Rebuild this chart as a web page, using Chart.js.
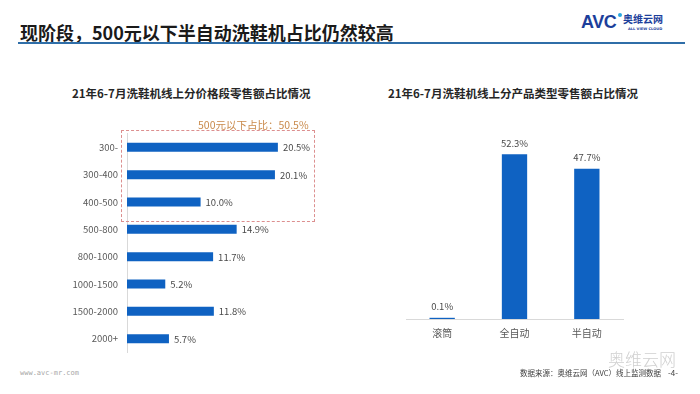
<!DOCTYPE html>
<html><head><meta charset="utf-8">
<script src="https://cdn.jsdelivr.net/npm/chart.js@4.4.1/dist/chart.umd.min.js"></script>
<style>
body{margin:0;width:700px;height:394px;background:#fff;position:relative;overflow:hidden;font-family:"Noto Sans CJK SC","Noto Sans",sans-serif;}
.abs{position:absolute;white-space:nowrap;line-height:1;}
canvas{position:absolute;}
</style></head><body>
<script>
// ---- data ----
const priceCategories = ["300-", "300-400", "400-500", "500-800", "800-1000", "1000-1500", "1500-2000", "2000+"];
const priceShares = [20.5, 20.1, 10.0, 14.9, 11.7, 5.2, 11.8, 5.7];
const typeCategories = ["滚筒", "全自动", "半自动"];
const typeShares = [0.1, 52.3, 47.7];
const under500Label = "500元以下占比：50.5%";
</script>

<div class="abs" style="left:20px;top:23px;font-size:18px;font-weight:700;color:#1a1a1a;">现阶段，500元以下半自动洗鞋机占比仍然较高</div>
<div class="abs" style="left:18px;top:42px;width:667px;height:2px;background:#2f6ea8"></div>

<div class="abs" style="left:581px;top:13px;font-family:'Liberation Sans';font-size:18px;font-weight:700;color:#1d3f9b;letter-spacing:-0.5px;">AVC</div>
<div class="abs" style="left:618px;top:13px;width:4px;height:4px;border-radius:2px;background:#2aa7e0"></div>
<div class="abs" style="left:623px;top:14px;font-size:10px;font-weight:700;color:#1d3f9b;">奥维云网</div>
<div class="abs" style="left:628px;top:28px;font-family:'DejaVu Sans';font-size:3.6px;font-weight:700;color:#1d3f9b;">ALL VIEW CLOUD</div>

<div class="abs" style="left:72px;top:88px;font-size:11.5px;font-weight:700;color:#262626;">21年6-7月洗鞋机线上分价格段零售额占比情况</div>
<div class="abs" style="left:388px;top:88px;font-size:11.5px;font-weight:700;color:#262626;">21年6-7月洗鞋机线上分产品类型零售额占比情况</div>

<canvas id="c1" width="330" height="232" style="left:0;top:127px;"></canvas>
<canvas id="c2" width="300" height="240" style="left:360px;top:110px;"></canvas>

<div class="abs" style="left:121px;top:130px;width:192px;height:90px;border:1px dashed #dc8f8f;"></div>
<div class="abs" id="u500" style="left:198px;top:120px;font-size:10.5px;color:#c98a4b;"></div>

<div class="abs" style="left:608px;top:350px;font-size:17px;color:#d0d0d0;font-weight:300;">奥维云网</div>
<div class="abs" style="left:20px;top:370px;font-family:'DejaVu Sans Mono';font-size:7px;color:#a6a6a6;">www.avc-mr.com</div>
<div class="abs" style="left:520px;top:369px;font-size:7.5px;color:#404040;">数据来源：奥维云网（AVC）线上监测数据</div>
<div class="abs" style="left:668px;top:369px;font-size:8px;color:#404040;">-4-</div>

<script>
document.getElementById('u500').textContent = under500Label;
const BLUE = '#0f62c2';
const FONT = '"Noto Sans CJK SC", "Noto Sans", sans-serif';

const hLabels = {
  id: 'hLabels',
  afterDatasetsDraw(chart) {
    const ctx = chart.ctx;
    const meta = chart.getDatasetMeta(0);
    ctx.save();
    ctx.font = '9.5px ' + FONT;
    ctx.fillStyle = '#4a4a4a';
    ctx.textBaseline = 'middle';
    ctx.textAlign = 'left';
    meta.data.forEach((bar, i) => {
      ctx.fillText(priceShares[i].toFixed(1) + '%', bar.x + 5, bar.y + 0.5);
    });
    ctx.restore();
  }
};

new Chart(document.getElementById('c1'), {
  type: 'bar',
  data: { labels: priceCategories, datasets: [{ data: priceShares, backgroundColor: BLUE, barPercentage: 0.33, categoryPercentage: 1 }] },
  options: {
    indexAxis: 'y',
    responsive: false,
    animation: false,
    layout: { padding: { left: 0, right: 19, top: 0, bottom: 0 } },
    plugins: { legend: { display: false }, tooltip: { enabled: false } },
    scales: {
      x: { display: false, min: 0, max: 25 },
      y: {
        grid: { display: false },
        border: { display: true, color: '#d9d9d9' },
        ticks: { font: { family: FONT, size: 9.5 }, color: '#595959', padding: 1 },
        afterFit(s) { s.width = 127; }
      }
    }
  },
  plugins: [hLabels]
});

const vLabels = {
  id: 'vLabels',
  afterDatasetsDraw(chart) {
    const ctx = chart.ctx;
    const meta = chart.getDatasetMeta(0);
    ctx.save();
    ctx.font = '9.5px ' + FONT;
    ctx.fillStyle = '#4a4a4a';
    ctx.textBaseline = 'middle';
    ctx.textAlign = 'center';
    meta.data.forEach((bar, i) => {
      ctx.fillText(typeShares[i].toFixed(1) + '%', bar.x, bar.y - 11);
    });
    ctx.restore();
  }
};

new Chart(document.getElementById('c2'), {
  type: 'bar',
  data: { labels: typeCategories, datasets: [{ data: typeShares, backgroundColor: BLUE, barPercentage: 0.35, categoryPercentage: 1, minBarLength: 1.2 }] },
  options: {
    responsive: false,
    animation: false,
    layout: { padding: { left: 46, right: 37, top: 20, bottom: 0 } },
    plugins: { legend: { display: false }, tooltip: { enabled: false } },
    scales: {
      y: { display: false, min: 0, max: 60 },
      x: {
        grid: { display: false },
        border: { display: true, color: '#d9d9d9' },
        ticks: { font: { family: FONT, size: 10 }, color: '#595959', padding: 0 },
        afterFit(s) { s.height = 31; }
      }
    }
  },
  plugins: [vLabels]
});
</script>
</body></html>
